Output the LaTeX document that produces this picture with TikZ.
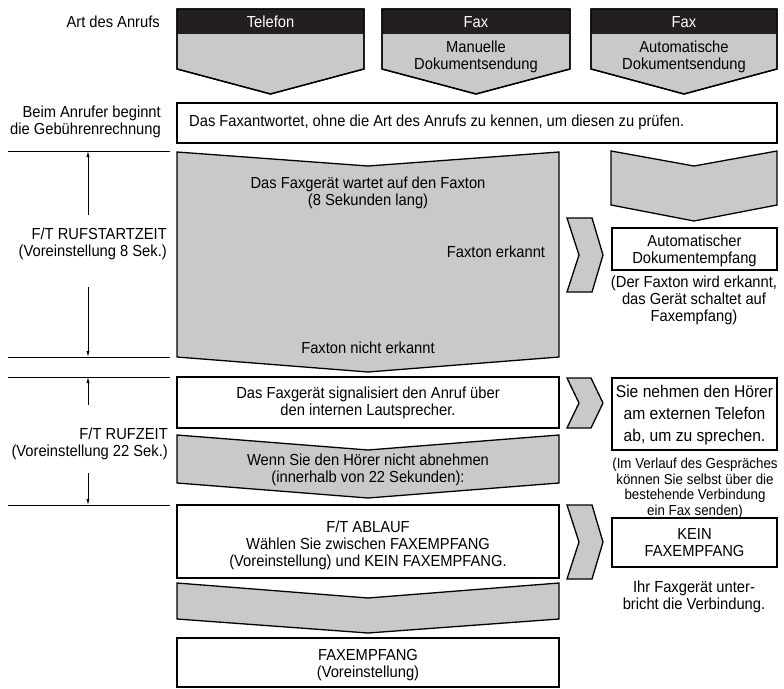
\documentclass[tikz,border=0pt]{standalone}
\usepackage{fontspec}
\setmainfont{Liberation Sans}[FakeStretch=0.92]
\usetikzlibrary{arrows.meta}
\definecolor{shapegray}{RGB}{200,201,203}
\definecolor{bandblack}{RGB}{35,31,32}
\begin{document}
\begin{tikzpicture}[x=1pt,y=-1pt,
  outline/.style={draw=black,line width=1.3pt,line join=miter},
  grayshape/.style={outline,fill=shapegray},
  whitebox/.style={outline,fill=white},
  band/.style={fill=bandblack},
  rule/.style={draw=black,line width=0.9pt},
  dimarrow/.style={draw=black,line width=0.8pt,-{Latex[length=6pt,width=3.2pt]}},
  txt/.style={font=\fontsize{16}{17}\selectfont,align=center,inner sep=0pt},
  bigtxt/.style={font=\fontsize{17}{22}\selectfont,align=center,inner sep=0pt},
  smalltxt/.style={font=\fontsize{14.5}{15.5}\selectfont,align=center,inner sep=0pt},
  headtxt/.style={txt,text=white},
  lefttxt/.style={txt,align=right,anchor=east},
]
\useasboundingbox (0,0) rectangle (784,688);

% ---------- call types (header arrows) ----------
\path[grayshape] (177,9) -- (364,9) -- (364,69) -- (270.5,94) -- (177,69) -- cycle;
\path[band] (177,9) rectangle (364,34);
\path[outline] (177,9) -- (364,9) -- (364,69) -- (270.5,94) -- (177,69) -- cycle;
\node[headtxt] (tel) at (270.5,22) {Telefon};

\path[grayshape] (382,9) -- (570,9) -- (570,69) -- (476,94) -- (382,69) -- cycle;
\path[band] (382,9) rectangle (570,34);
\path[outline] (382,9) -- (570,9) -- (570,69) -- (476,94) -- (382,69) -- cycle;
\node[headtxt] (faxa) at (476,22) {Fax};
\node[txt] (manual) at (476,57) {Manuelle\\Dokumentsendung};

\path[grayshape] (591,9) -- (777,9) -- (777,69) -- (684,94) -- (591,69) -- cycle;
\path[band] (591,9) rectangle (777,34);
\path[outline] (591,9) -- (777,9) -- (777,69) -- (684,94) -- (591,69) -- cycle;
\node[headtxt] (faxb) at (684,22) {Fax};
\node[txt] (auto) at (684,57) {Automatische\\Dokumentsendung};

\node[lefttxt] (art) at (160,22) {Art des Anrufs};

% ---------- answering ----------
\path[whitebox] (177,103) rectangle (777,143);
\node[txt,anchor=west] (answer) at (189,122) {Das Faxantwortet, ohne die Art des Anrufs zu kennen, um diesen zu prüfen.};
\node[lefttxt] (charge) at (161,122) {Beim Anrufer beginnt\\die Gebührenrechnung};

% ---------- time scale on the left ----------
\draw[rule] (8,151) -- (170,151);
\draw[rule] (8,357) -- (170,357);
\draw[rule] (8,377) -- (170,377);
\draw[rule] (8,505) -- (170,505);
\coordinate (s1top) at (88,151);
\coordinate (s1a) at (88,215);
\coordinate (s1b) at (88,287);
\coordinate (s1bot) at (88,357);
\coordinate (s2top) at (88,377);
\coordinate (s2a) at (88,405);
\coordinate (s2b) at (88,473);
\coordinate (s2bot) at (88,505);
\draw[dimarrow] (s1a) -- (s1top);
\draw[dimarrow] (s1b) -- (s1bot);
\draw[dimarrow] (s2a) -- (s2top);
\draw[dimarrow] (s2b) -- (s2bot);
\node[lefttxt] (startzeit) at (167,244) {F/T RUFSTARTZEIT\\(Voreinstellung 8 Sek.)};
\node[lefttxt] (rufzeit) at (168,444) {F/T RUFZEIT\\(Voreinstellung 22 Sek.)};

% ---------- middle column ----------
\path[grayshape] (177,152) -- (368,166) -- (559,152) -- (559,357) -- (368,372) -- (177,357) -- cycle;
\node[txt] (wait) at (368,193) {Das Faxgerät wartet auf den Faxton\\(8 Sekunden lang)};
\node[txt] (detected) at (496,252) {Faxton erkannt};
\node[txt] (notdetected) at (368,348) {Faxton nicht erkannt};

\path[whitebox] (177,377) rectangle (559,428);
\node[txt] (signal) at (368,403) {Das Faxgerät signalisiert den Anruf über\\den internen Lautsprecher.};

\path[grayshape] (177,435) -- (368,450) -- (559,435) -- (559,483) -- (368,498) -- (177,483) -- cycle;
\node[txt] (noanswer) at (368,470) {Wenn Sie den Hörer nicht abnehmen\\(innerhalb von 22 Sekunden):};

\path[whitebox] (177,505) rectangle (559,578);
\node[txt] (ablauf) at (368,545) {F/T ABLAUF\\Wählen Sie zwischen FAXEMPFANG\\(Voreinstellung) und KEIN FAXEMPFANG.};

\path[grayshape] (177,583) -- (368,598) -- (559,583) -- (559,619) -- (368,633) -- (177,619) -- cycle;

\path[whitebox] (177,638) rectangle (559,687);
\node[txt] (faxrx) at (368,665) {FAXEMPFANG\\(Voreinstellung)};

% ---------- side chevrons ----------
\path[grayshape] (567,218) -- (592,218) -- (603,255) -- (592,292) -- (567,292) -- (579,255) -- cycle;
\path[grayshape] (567,378) -- (591,378) -- (603,403) -- (591,428) -- (567,428) -- (579,403) -- cycle;
\path[grayshape] (567,505) -- (592,505) -- (603,542) -- (592,579) -- (567,579) -- (579,542) -- cycle;

% ---------- right column ----------
\path[grayshape] (611,151) -- (694,166) -- (777,151) -- (777,205) -- (694,221) -- (611,205) -- cycle;

\path[whitebox] (612,228) rectangle (777,270);
\node[txt] (autorx) at (694.5,251) {Automatischer\\Dokumentempfang};
\node[txt] (autonote) at (694,300) {(Der Faxton wird erkannt,\\das Gerät schaltet auf\\Faxempfang)};

\path[whitebox] (612,378) rectangle (777,450);
\node[bigtxt] (pickup) at (694.5,415) {Sie nehmen den Hörer\\am externen Telefon\\ab, um zu sprechen.};
\node[smalltxt] (pickupnote) at (695,488) {(Im Verlauf des Gespräches\\können Sie selbst über die\\bestehende Verbindung\\ein Fax senden)};

\path[whitebox] (612,518) rectangle (777,567);
\node[txt] (norx) at (694.5,543) {KEIN\\FAXEMPFANG};
\node[txt] (norxnote) at (694,597) {Ihr Faxgerät unter-\\bricht die Verbindung.};
\end{tikzpicture}
\end{document}
